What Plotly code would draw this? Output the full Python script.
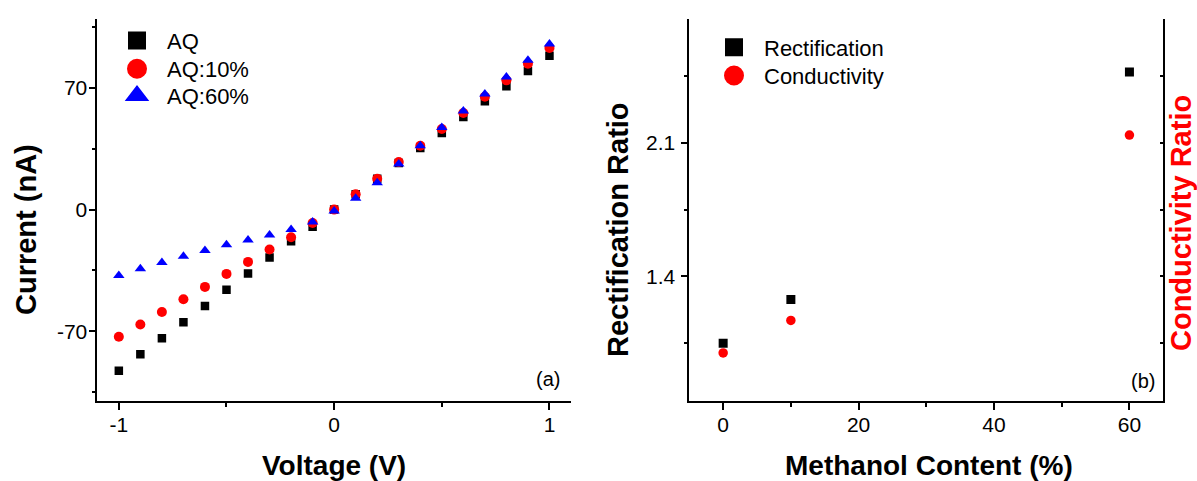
import plotly.graph_objects as go

# ---------------- data ----------------
voltage = [-1.0, -0.9, -0.8, -0.7, -0.6, -0.5, -0.4, -0.3, -0.2, -0.1, 0.0,
           0.1, 0.2, 0.3, 0.4, 0.5, 0.6, 0.7, 0.8, 0.9, 1.0]
current_aq = [-92.7, -83.3, -74.1, -64.8, -55.5, -46.2, -36.8, -27.6, -18.2, -9.8, 0.0,
              8.8, 17.8, 26.8, 35.5, 44.1, 53.3, 62.3, 71.0, 79.8, 88.6]
current_aq10 = [-73.2, -66.1, -58.9, -51.6, -44.5, -37.0, -30.1, -23.0, -15.9, -7.7, 0.0,
                8.8, 17.8, 27.4, 36.8, 46.4, 55.6, 65.0, 74.4, 84.0, 93.0]
current_aq60 = [-38.0, -34.1, -30.5, -26.9, -23.6, -20.3, -17.5, -14.6, -11.5, -7.1, -0.8,
                6.5, 15.5, 26.3, 36.8, 47.2, 56.8, 66.5, 76.3, 85.9, 95.3]
series_names_a = ["AQ", "AQ:10%", "AQ:60%"]

methanol = [0, 10, 60]
rectification = [1.05, 1.28, 2.47]
conductivity = [1.0, 1.17, 2.14]
series_names_b = ["Rectification", "Conductivity"]

volt_ticks = [-1, 0, 1]
volt_labels = ["-1", "0", "1"]
volt_minor = [-0.5, 0.5]
curr_ticks = [-70, 0, 70]
curr_labels = ["-70", "0", "70"]
curr_minor = [-105, -35, 35, 105]
meth_ticks = [0, 20, 40, 60]
meth_labels = ["0", "20", "40", "60"]
meth_minor = [10, 30, 50]
ratio_ticks = [1.4, 2.1]
ratio_labels = ["1.4", "2.1"]
ratio_minor = [1.05, 1.75, 2.45]

# ---------------- style ----------------
FONT = "Liberation Sans, Arial, sans-serif"
W, H = 1197, 481
BLACK, RED, BLUE = "#000000", "#ff0000", "#0000ff"

fig = go.Figure()

# panel (a) data
fig.add_trace(go.Scatter(x=voltage, y=current_aq, mode="markers", showlegend=False,
                         marker=dict(symbol="square", size=8.5, color=BLACK), xaxis="x", yaxis="y"))
fig.add_trace(go.Scatter(x=voltage, y=current_aq10, mode="markers", showlegend=False,
                         marker=dict(symbol="circle", size=10, color=RED), xaxis="x", yaxis="y"))
fig.add_trace(go.Scatter(x=voltage, y=current_aq60, mode="markers", showlegend=False,
                         marker=dict(symbol="triangle-up", size=10, color=BLUE), xaxis="x", yaxis="y"))

# panel (b) data
fig.add_trace(go.Scatter(x=methanol, y=rectification, mode="markers", showlegend=False,
                         marker=dict(symbol="square", size=9, color=BLACK), xaxis="x2", yaxis="y2"))
fig.add_trace(go.Scatter(x=methanol, y=conductivity, mode="markers", showlegend=False,
                         marker=dict(symbol="circle", size=9.5, color=RED), xaxis="x2", yaxis="y4"))

# legend entries: one legend box per entry so rows can be spaced like the reference
legend_entries = [
    # name, symbol, colour, line width, legend id, left x px, top y px, axes
    (series_names_a[0], "square", BLACK, 2, "legend", 107, 19.7, "x", "y"),
    (series_names_a[1], "circle", RED, 4, "legend3", 107, 48.0, "x", "y"),
    (series_names_a[2], "triangle-up", BLUE, 3, "legend4", 107, 74.7, "x", "y"),
    (series_names_b[0], "square", BLACK, 2, "legend2", 704, 26.4, "x2", "y2"),
    (series_names_b[1], "circle", RED, 4, "legend5", 704, 54.7, "x2", "y2"),
]

legend_layouts = {}
for name, sym, col, lw, lid, lx, ly, xa, ya in legend_entries:
    fig.add_trace(go.Scatter(x=[None], y=[None], mode="markers", name=name, legend=lid,
                             marker=dict(symbol=sym, size=16, color=col, line=dict(color=col, width=lw)),
                             xaxis=xa, yaxis=ya))
    legend_layouts[lid] = dict(x=lx / W, y=1 - ly / H, xanchor="left", yanchor="top",
                               bgcolor="rgba(0,0,0,0)", itemwidth=50,
                               font=dict(family=FONT, size=22, color=BLACK))

dom_a = [97.3 / W, 571.0 / W]
dom_b = [689.3 / W, 1163.3 / W]
dom_y = [1 - 400.7 / H, 1 - 18.5 / H]

LW = 1.6
tickfont = dict(family=FONT, size=21, color=BLACK)

def base_axis(**kw):
    d = dict(showline=True, linecolor=BLACK, linewidth=LW, showgrid=False, zeroline=False,
             ticks="outside", ticklen=7, tickwidth=LW, tickcolor=BLACK, tickfont=tickfont,
             tickmode="array")
    d.update(kw)
    return d

def minor(vals, where):
    return dict(tickmode="array", tickvals=vals, ticks=where, ticklen=4, tickwidth=LW, tickcolor=BLACK)

layout = dict(
    width=W, height=H, margin=dict(l=0, r=0, t=0, b=0),
    paper_bgcolor="white", plot_bgcolor="white",
    font=dict(family=FONT, color=BLACK),
    # panel (a)
    xaxis=base_axis(domain=dom_a, range=[-1.1, 1.1], tickvals=volt_ticks, ticktext=volt_labels,
                    anchor="y", ticklabelstandoff=-3, minor=minor(volt_minor, "outside")),
    yaxis=base_axis(domain=dom_y, range=[-110, 110], tickvals=curr_ticks, ticktext=curr_labels,
                    anchor="x", ticklabelstandoff=-3, minor=minor(curr_minor, "outside")),
    xaxis3=base_axis(overlaying="x", side="top", anchor="y", range=[-1.1, 1.1], tickvals=volt_ticks,
                     showticklabels=False, minor=minor(volt_minor, "inside")),
    yaxis3=base_axis(overlaying="y", side="right", anchor="x", range=[-110, 110], tickvals=curr_ticks,
                     showticklabels=False, minor=minor(curr_minor, "outside")),
    # panel (b)
    xaxis2=base_axis(domain=dom_b, range=[-5, 65], tickvals=meth_ticks, ticktext=meth_labels,
                     anchor="y2", ticklabelstandoff=-3, minor=minor(meth_minor, "outside")),
    yaxis2=base_axis(domain=dom_y, range=[0.75, 2.75], tickvals=ratio_ticks, ticktext=ratio_labels,
                     anchor="x2", ticklabelstandoff=1, minor=minor(ratio_minor, "outside")),
    xaxis4=base_axis(overlaying="x2", side="top", anchor="y2", range=[-5, 65], tickvals=meth_ticks,
                     showticklabels=False, minor=minor(meth_minor, "inside")),
    yaxis4=base_axis(overlaying="y2", side="right", anchor="x2", range=[0.75, 2.75], tickvals=ratio_ticks,
                     showticklabels=False, ticks="inside", ticklen=4, minor=minor(ratio_minor, "inside")),
)
layout.update(legend_layouts)

def ann(text, x, y, size, bold=True, color=BLACK, angle=0):
    return dict(text=f"<b>{text}</b>" if bold else text, x=x / W, y=1 - y / H, xref="paper", yref="paper",
                xanchor="center", yanchor="middle", showarrow=False, textangle=angle,
                font=dict(family=FONT, size=size, color=color))

layout["annotations"] = [
    ann("Voltage (V)", 334, 465, 28),
    ann("Methanol Content (%)", 929, 465, 28),
    ann("Current (nA)", 26, 230, 29, angle=-90),
    ann("Rectification Ratio", 618, 230, 29, angle=-90),
    ann("Conductivity Ratio", 1181, 223, 29, color=RED, angle=-90),
    ann("(a)", 548, 379, 20, bold=False),
    ann("(b)", 1142.5, 381, 20, bold=False),
]

fig.update_layout(**layout)
fig.write_html("out.html")
